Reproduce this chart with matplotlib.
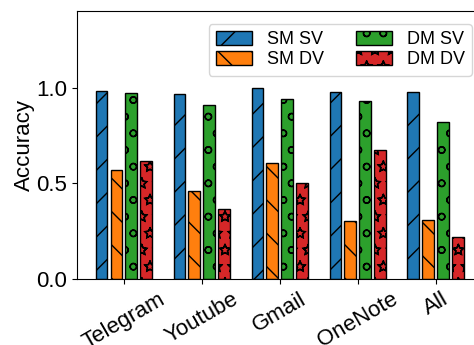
import matplotlib
matplotlib.use("Agg")
import matplotlib.pyplot as plt
import matplotlib.hatch
import numpy as np

plt.rcParams['font.family'] = ['Liberation Sans', 'DejaVu Sans']
plt.rcParams['hatch.linewidth'] = 1.0
# hollow stars like the reference
matplotlib.hatch.Stars.filled = False

apps = ["Telegram", "Youtube", "Gmail", "OneNote", "All"]
sm_sv = [0.983, 0.967, 1.0, 0.977, 0.977]
sm_dv = [0.569, 0.459, 0.606, 0.304, 0.309]
dm_sv = [0.972, 0.909, 0.941, 0.928, 0.822]
dm_dv = [0.616, 0.365, 0.504, 0.672, 0.218]

series = [("SM SV", sm_sv, "#1f77b4", "/"),
          ("SM DV", sm_dv, "#ff7f0e", "\\"),
          ("DM SV", dm_sv, "#2ca02c", "o"),
          ("DM DV", dm_dv, "#d62728", "*")]

fig = plt.figure(figsize=(4.74, 3.45), dpi=100)
ax = fig.add_axes([77/474, 1 - 279/345, 410/474, 268/345])

x = np.arange(len(apps))
width = 0.15
step = 0.19
for i, (name, vals, color, hatch) in enumerate(series):
    ax.bar(x + (i - 1.5) * step, vals, width, color=color, edgecolor="black",
           linewidth=1.0, hatch=hatch, label=name)

ax.set_xlim(-0.6, 4.66)
ax.set_ylim(0, 1.4)
ax.set_yticks([0.0, 0.5, 1.0])
ax.set_xticks(x)
ax.set_xticklabels(apps, rotation=30, fontsize=16)
ax.tick_params(axis="y", labelsize=16)
ax.set_ylabel("Accuracy", fontsize=16, labelpad=1)
ax.legend(ncol=2, loc="upper right", fontsize=13, bbox_to_anchor=(0.985, 0.985),
          columnspacing=1.8, handlelength=2.0, handleheight=0.8,
          labelspacing=0.15, handletextpad=0.8)

plt.savefig("out.png", dpi=100)
